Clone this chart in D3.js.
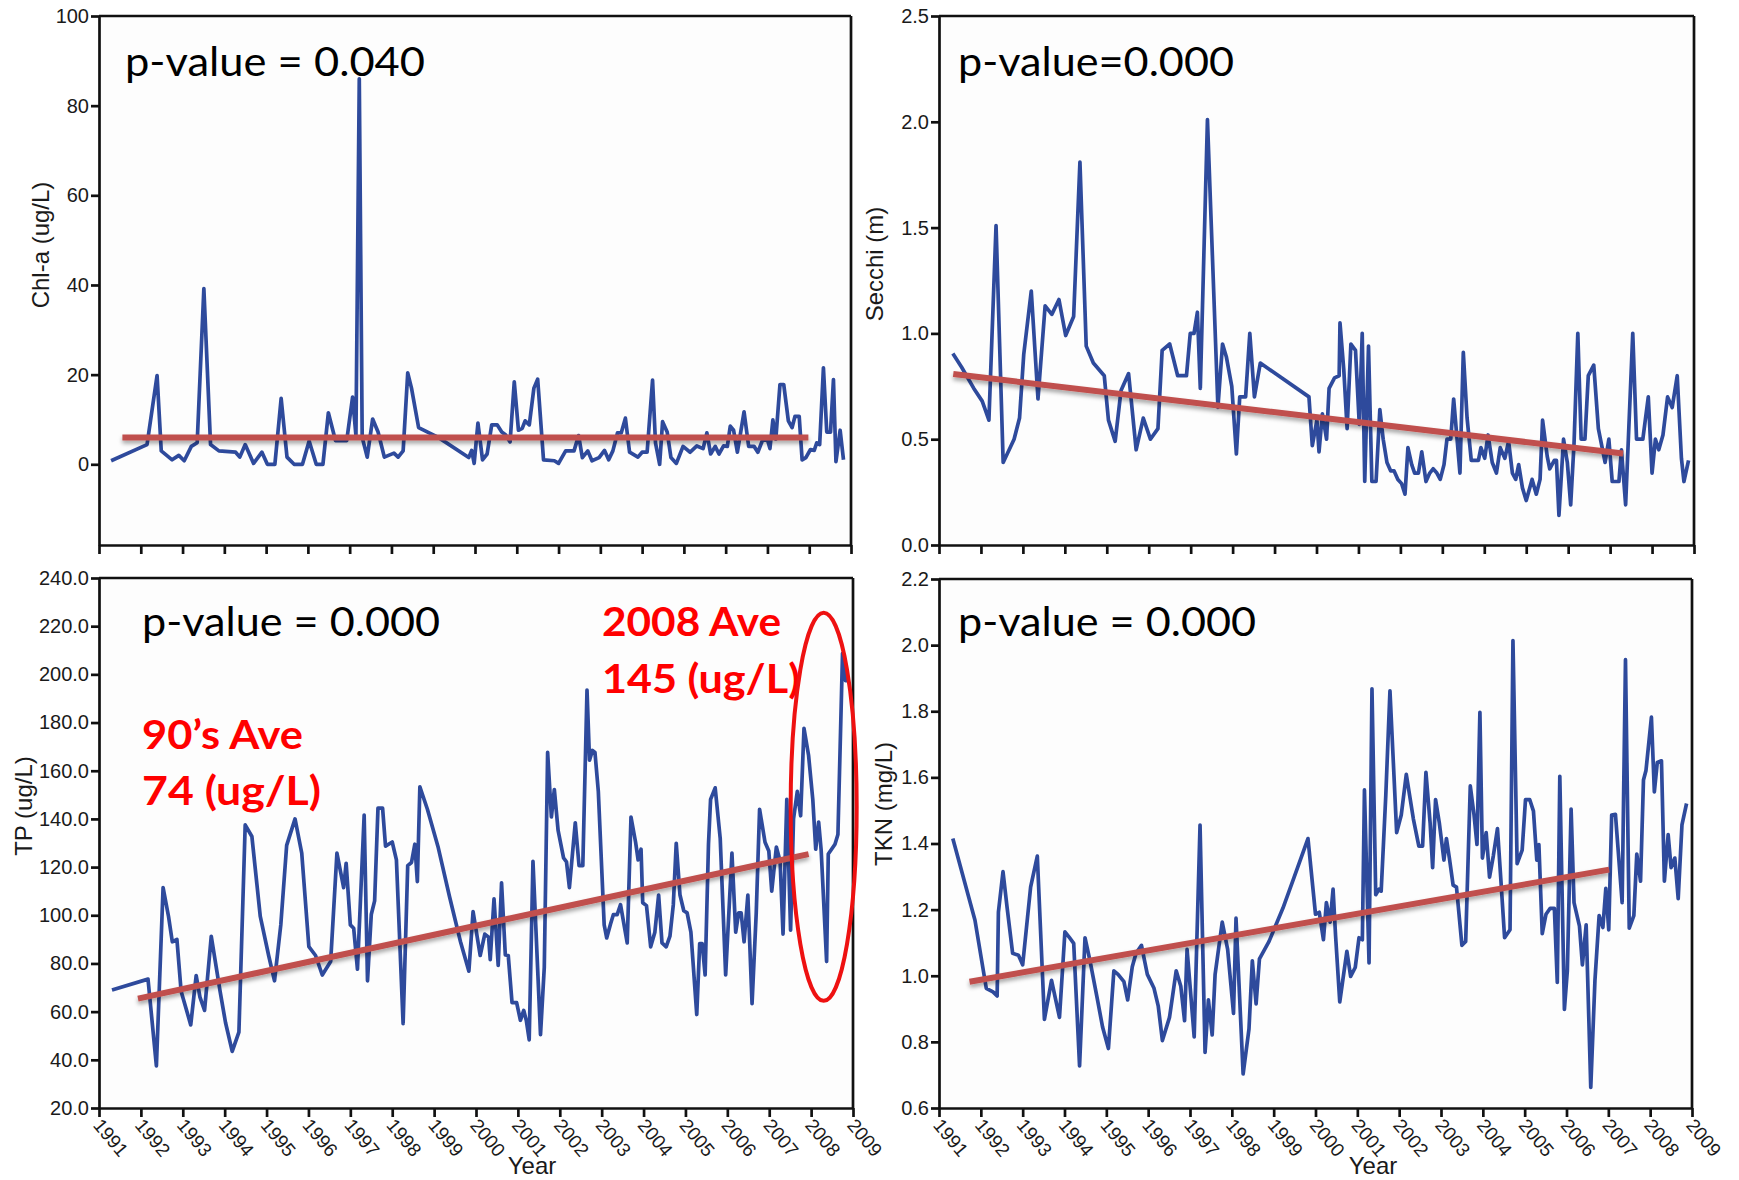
<!DOCTYPE html>
<html><head><meta charset="utf-8">
<script src="https://cdn.jsdelivr.net/npm/d3@7/dist/d3.min.js"></script>
<style>body{margin:0;background:#fff;} svg{display:block;}</style>
</head><body><svg id="chart" width="1739" height="1180"></svg>
<script>
// ---------------- DATA ----------------
const years = [1991,1992,1993,1994,1995,1996,1997,1998,1999,2000,2001,2002,2003,2004,2005,2006,2007,2008,2009];

const chlTicks = [0,20,40,60,80,100];
const secchiTicks = [0,0.5,1.0,1.5,2.0,2.5];
const tpTicks = [20,40,60,80,100,120,140,160,180,200,220,240];
const tknTicks = [0.6,0.8,1.0,1.2,1.4,1.6,1.8,2.0,2.2];

const chlData = [[1991.29,0.8],[1992.15,4.4],[1992.39,19.8],[1992.49,3],[1992.75,1],[1992.91,2],[1993.04,0.8],[1993.21,4],[1993.35,4.8],[1993.51,39.2],[1993.67,4.4],[1993.87,3],[1994.27,2.7],[1994.37,1.6],[1994.50,4.4],[1994.70,0.2],[1994.90,2.7],[1995.03,0],[1995.21,0],[1995.36,14.7],[1995.50,1.6],[1995.67,0],[1995.87,0],[1996.03,5.2],[1996.20,0],[1996.36,0],[1996.49,11.5],[1996.66,5.3],[1996.93,5.3],[1997.07,15],[1997.15,6.4],[1997.23,86],[1997.30,6],[1997.42,1.6],[1997.55,10.1],[1997.68,7.2],[1997.83,1.6],[1998.06,2.5],[1998.16,1.6],[1998.28,3],[1998.39,20.4],[1998.48,17],[1998.65,8.2],[1999.12,6],[1999.85,1.5],[1999.92,3.1],[1999.98,0.2],[2000.07,9.2],[2000.18,1],[2000.29,2.3],[2000.40,8.8],[2000.53,8.8],[2000.64,7.2],[2000.73,6.6],[2000.84,5],[2000.94,18.4],[2001.04,7.6],[2001.13,8],[2001.20,9.7],[2001.30,8.8],[2001.41,17],[2001.50,19],[2001.64,1],[2001.90,0.8],[2002.00,0.2],[2002.17,3],[2002.37,3],[2002.48,6.4],[2002.57,1.5],[2002.70,3],[2002.80,0.8],[2002.97,1.5],[2003.10,3.1],[2003.20,1],[2003.30,3],[2003.41,7],[2003.50,7],[2003.60,10.3],[2003.70,2.7],[2003.90,1.6],[2004.00,2.7],[2004.12,2.7],[2004.25,18.8],[2004.32,4.8],[2004.42,0],[2004.49,9.5],[2004.60,7.2],[2004.69,1.5],[2004.82,0.2],[2004.98,4],[2005.15,2.7],[2005.31,4.1],[2005.46,3.5],[2005.55,7],[2005.64,2.3],[2005.75,4],[2005.84,2.3],[2005.95,4.1],[2006.04,4],[2006.11,8.5],[2006.19,7.6],[2006.28,2.7],[2006.44,11.7],[2006.55,4],[2006.68,4],[2006.77,2.7],[2006.88,5.3],[2007.00,5.5],[2007.06,3.5],[2007.13,9.9],[2007.20,5.6],[2007.30,17.8],[2007.39,17.8],[2007.50,9.7],[2007.59,8.2],[2007.66,10.7],[2007.76,10.7],[2007.83,1],[2007.92,1.5],[2008.03,3.3],[2008.12,3.1],[2008.18,4.8],[2008.25,4.4],[2008.34,21.5],[2008.42,7.2],[2008.51,7.2],[2008.58,18.9],[2008.64,0.6],[2008.74,7.6],[2008.82,1]];
const chlTrend = [[1991.56,6.0],[2007.98,6.0]];

const secchiData = [[1991.33,0.905],[1991.54,0.84],[1991.83,0.74],[1992.03,0.68],[1992.19,0.59],[1992.36,1.51],[1992.53,0.39],[1992.79,0.5],[1992.92,0.6],[1993.02,0.9],[1993.20,1.2],[1993.36,0.69],[1993.53,1.13],[1993.69,1.09],[1993.86,1.16],[1994.02,0.99],[1994.21,1.08],[1994.36,1.81],[1994.51,0.94],[1994.68,0.86],[1994.94,0.8],[1995.04,0.59],[1995.20,0.49],[1995.34,0.73],[1995.52,0.81],[1995.70,0.45],[1995.87,0.6],[1996.04,0.5],[1996.22,0.55],[1996.32,0.92],[1996.50,0.95],[1996.69,0.8],[1996.90,0.8],[1996.99,1.0],[1997.08,1.0],[1997.16,1.1],[1997.23,0.74],[1997.40,2.01],[1997.65,0.65],[1997.76,0.95],[1997.85,0.89],[1997.98,0.75],[1998.09,0.43],[1998.17,0.7],[1998.31,0.7],[1998.41,1.0],[1998.52,0.7],[1998.66,0.86],[1999.82,0.7],[1999.90,0.47],[2000.01,0.59],[2000.06,0.44],[2000.14,0.62],[2000.24,0.5],[2000.30,0.74],[2000.43,0.79],[2000.54,0.8],[2000.56,1.05],[2000.65,0.83],[2000.73,0.55],[2000.82,0.95],[2000.93,0.92],[2001.02,0.57],[2001.09,1.0],[2001.15,0.3],[2001.24,0.94],[2001.32,0.3],[2001.42,0.3],[2001.51,0.64],[2001.59,0.5],[2001.68,0.39],[2001.77,0.35],[2001.85,0.35],[2001.94,0.31],[2002.03,0.29],[2002.11,0.24],[2002.18,0.46],[2002.27,0.38],[2002.34,0.34],[2002.43,0.34],[2002.51,0.44],[2002.61,0.3],[2002.70,0.34],[2002.78,0.36],[2002.87,0.34],[2002.95,0.31],[2003.04,0.38],[2003.11,0.5],[2003.20,0.5],[2003.27,0.69],[2003.33,0.55],[2003.42,0.34],[2003.50,0.91],[2003.59,0.6],[2003.69,0.4],[2003.86,0.4],[2003.92,0.46],[2004.01,0.41],[2004.09,0.52],[2004.19,0.39],[2004.29,0.34],[2004.38,0.46],[2004.49,0.41],[2004.58,0.49],[2004.67,0.34],[2004.75,0.31],[2004.82,0.38],[2004.91,0.27],[2005.00,0.21],[2005.14,0.31],[2005.24,0.24],[2005.33,0.31],[2005.39,0.59],[2005.50,0.42],[2005.56,0.36],[2005.67,0.4],[2005.72,0.4],[2005.78,0.14],[2005.89,0.5],[2005.98,0.39],[2006.06,0.19],[2006.14,0.48],[2006.23,1.0],[2006.31,0.5],[2006.40,0.5],[2006.48,0.8],[2006.61,0.85],[2006.72,0.55],[2006.81,0.46],[2006.88,0.39],[2006.97,0.5],[2007.05,0.3],[2007.21,0.3],[2007.27,0.45],[2007.37,0.19],[2007.54,1.0],[2007.63,0.5],[2007.78,0.5],[2007.91,0.7],[2008.00,0.34],[2008.08,0.5],[2008.16,0.45],[2008.26,0.52],[2008.37,0.7],[2008.48,0.65],[2008.60,0.8],[2008.70,0.41],[2008.76,0.3],[2008.87,0.4]];
const secchiTrend = [[1991.34,0.808],[2007.31,0.432]];

const tpData = [[1991.31,69],[1992.17,73.5],[1992.37,37.5],[1992.53,111.5],[1992.66,99.5],[1992.75,89],[1992.86,90],[1992.96,68.5],[1993.19,54.5],[1993.32,75],[1993.41,66],[1993.52,60.5],[1993.68,91.3],[1993.89,68.5],[1994.02,55.5],[1994.18,43.5],[1994.34,51.5],[1994.49,137.5],[1994.65,132.7],[1994.85,99.5],[1995.05,83.3],[1995.19,72.8],[1995.34,96],[1995.48,129],[1995.68,140],[1995.84,125.8],[1996.01,87],[1996.17,83.3],[1996.33,75.2],[1996.53,80.8],[1996.68,125.8],[1996.84,111.5],[1996.90,121.6],[1997.00,96],[1997.08,94.6],[1997.17,77.6],[1997.33,141.6],[1997.41,72.8],[1997.50,100.3],[1997.58,106],[1997.66,144.5],[1997.77,144.5],[1997.84,128.7],[1998.00,130.4],[1998.10,123],[1998.26,55],[1998.37,120.6],[1998.46,121.9],[1998.54,129.5],[1998.60,114],[1998.66,153.3],[1998.84,144],[1999.10,128],[1999.37,107.6],[1999.63,89],[1999.83,76.8],[1999.93,101.5],[2000.01,93],[2000.10,83.3],[2000.21,92.2],[2000.30,90.9],[2000.34,81.6],[2000.43,106.8],[2000.53,79.2],[2000.61,113.5],[2000.70,83.5],[2000.77,83.3],[2000.86,63.7],[2000.97,63.7],[2001.06,56.4],[2001.14,60.5],[2001.20,56.4],[2001.27,48.3],[2001.36,122.4],[2001.54,50.4],[2001.63,78.4],[2001.71,167.6],[2001.80,140.8],[2001.87,152.2],[2001.96,135.2],[2002.09,123.8],[2002.16,122.2],[2002.23,111.5],[2002.37,138.4],[2002.46,120.6],[2002.55,120.6],[2002.65,193.5],[2002.71,164.4],[2002.78,168.4],[2002.84,167.6],[2002.92,151.4],[2003.06,96],[2003.12,90.6],[2003.21,96.3],[2003.28,100.3],[2003.37,100.3],[2003.45,104.4],[2003.61,88.5],[2003.70,140.8],[2003.81,130.3],[2003.87,123],[2003.94,127.4],[2003.98,105.2],[2004.07,104],[2004.17,86.9],[2004.27,93],[2004.36,108.4],[2004.44,88.5],[2004.54,86.9],[2004.63,91.3],[2004.71,104.3],[2004.78,129.9],[2004.87,108.4],[2004.96,101.9],[2005.04,101],[2005.13,93],[2005.27,58.8],[2005.34,88.2],[2005.40,88.2],[2005.47,75.2],[2005.55,129.5],[2005.60,148.1],[2005.71,152.9],[2005.83,131.9],[2005.96,75.2],[2006.11,125.8],[2006.20,93],[2006.27,101],[2006.33,101],[2006.40,89],[2006.49,108.4],[2006.59,63.3],[2006.69,101],[2006.77,144],[2006.90,130.3],[2006.99,126.7],[2007.06,110],[2007.17,128.3],[2007.26,122.4],[2007.33,92.2],[2007.42,148.1],[2007.51,93.8],[2007.58,140],[2007.67,151.4],[2007.75,141.3],[2007.83,177.6],[2007.94,166.3],[2008.04,148.1],[2008.11,127.4],[2008.18,138.7],[2008.24,127],[2008.37,80.8],[2008.41,125.4],[2008.57,129.5],[2008.64,133.5],[2008.75,208.7],[2008.82,197.4],[2008.88,197.4]];
const tpTrend = [[1991.93,65.4],[2007.94,125.4]];

const tknData = [[1991.33,1.415],[1991.86,1.168],[1992.13,0.962],[1992.29,0.951],[1992.39,0.939],[1992.42,1.192],[1992.53,1.315],[1992.63,1.204],[1992.76,1.068],[1992.90,1.062],[1993.00,1.033],[1993.19,1.268],[1993.35,1.362],[1993.52,0.868],[1993.69,0.986],[1993.88,0.874],[1994.01,1.133],[1994.12,1.115],[1994.22,1.098],[1994.36,0.727],[1994.49,1.115],[1994.61,1.045],[1994.78,0.933],[1994.91,0.845],[1995.05,0.78],[1995.18,1.015],[1995.28,1.004],[1995.42,0.982],[1995.51,0.927],[1995.62,1.027],[1995.71,1.068],[1995.84,1.092],[1995.98,1.004],[1996.14,0.962],[1996.24,0.909],[1996.34,0.804],[1996.51,0.874],[1996.67,1.015],[1996.78,0.968],[1996.87,0.864],[1996.93,1.08],[1997.01,0.956],[1997.10,0.815],[1997.24,1.456],[1997.36,0.768],[1997.44,0.927],[1997.53,0.821],[1997.60,1.004],[1997.77,1.162],[1997.90,1.08],[1998.04,0.886],[1998.10,1.174],[1998.27,0.703],[1998.41,0.839],[1998.49,1.045],[1998.58,0.915],[1998.66,1.051],[1998.89,1.104],[1999.22,1.204],[1999.49,1.298],[1999.82,1.415],[2000.00,1.186],[2000.09,1.192],[2000.19,1.109],[2000.26,1.221],[2000.35,1.162],[2000.42,1.262],[2000.48,1.121],[2000.58,0.921],[2000.75,1.074],[2000.84,0.998],[2000.95,1.025],[2001.04,1.115],[2001.12,1.109],[2001.17,1.562],[2001.28,1.039],[2001.35,1.868],[2001.44,1.245],[2001.52,1.262],[2001.57,1.256],[2001.68,1.545],[2001.78,1.862],[2001.94,1.433],[2002.05,1.486],[2002.17,1.609],[2002.34,1.474],[2002.47,1.392],[2002.56,1.392],[2002.64,1.615],[2002.74,1.462],[2002.80,1.327],[2002.87,1.533],[2002.96,1.462],[2003.07,1.35],[2003.13,1.415],[2003.20,1.356],[2003.29,1.274],[2003.37,1.268],[2003.50,1.092],[2003.59,1.104],[2003.70,1.574],[2003.79,1.486],[2003.86,1.397],[2003.93,1.797],[2003.99,1.356],[2004.08,1.433],[2004.16,1.298],[2004.25,1.362],[2004.35,1.445],[2004.43,1.292],[2004.52,1.115],[2004.65,1.139],[2004.72,2.014],[2004.82,1.339],[2004.94,1.38],[2005.02,1.533],[2005.12,1.533],[2005.21,1.498],[2005.29,1.35],[2005.34,1.397],[2005.42,1.127],[2005.51,1.186],[2005.61,1.204],[2005.71,1.204],[2005.78,0.98],[2005.84,1.603],[2005.95,0.898],[2006.02,1.015],[2006.11,1.504],[2006.18,1.221],[2006.31,1.15],[2006.38,1.033],[2006.47,1.154],[2006.58,0.662],[2006.68,0.986],[2006.78,1.182],[2006.87,1.146],[2006.94,1.264],[2007.01,1.139],[2007.08,1.486],[2007.17,1.488],[2007.33,1.221],[2007.41,1.956],[2007.50,1.144],[2007.61,1.182],[2007.68,1.368],[2007.77,1.286],[2007.84,1.592],[2007.90,1.621],[2008.03,1.782],[2008.10,1.556],[2008.17,1.645],[2008.27,1.65],[2008.34,1.286],[2008.43,1.427],[2008.50,1.327],[2008.59,1.356],[2008.67,1.233],[2008.76,1.456],[2008.87,1.521]];
const tknTrend = [[1991.73,0.982],[2007.02,1.321]];

const pValueLabels = ["p-value = 0.040","p-value=0.000","p-value = 0.000","p-value = 0.000"];
const axisTitles = ["Chl-a (ug/L)","Secchi (m)","TP (ug/L)","TKN (mg/L)"];
const tpNotes = ["2008 Ave","145 (ug/L)","90\u2019s Ave","74 (ug/L)"];
const highlight = {year: 2008.3, value: 145};

// ---------------- DRAW ----------------
const svg = d3.select("#chart");
const BLUE = "#2e4a9c", RED = "#c0504d", ANN = "#ff0000";

const defs = svg.append("defs");
defs.append("filter").attr("id","shadow").attr("filterUnits","userSpaceOnUse")
  .attr("x",0).attr("y",0).attr("width",1739).attr("height",1180)
  .append("feDropShadow").attr("dx",0).attr("dy",3).attr("stdDeviation",2)
  .attr("flood-color","#000").attr("flood-opacity",0.35);

const panels = [
  {x0:99, x1:851, y0:16, y1:545, domain:[-18,100], ticks:chlTicks, fmt:d3.format("d"), data:chlData, trend:chlTrend, labels:false,
   p:pValueLabels[0], px:125, py:76, pw:300, title:axisTitles[0], tx:41, ty:245},
  {x0:939, x1:1694, y0:16, y1:545, domain:[0,2.5], ticks:secchiTicks, fmt:d3.format(".1f"), data:secchiData, trend:secchiTrend, labels:false,
   p:pValueLabels[1], px:958, py:76, pw:276, title:axisTitles[1], tx:875, ty:264},
  {x0:99, x1:853, y0:578, y1:1108, domain:[20,240], ticks:tpTicks, fmt:d3.format(".1f"), data:tpData, trend:tpTrend, labels:true, yearX:532,
   p:pValueLabels[2], px:142, py:636, pw:298, title:axisTitles[2], tx:24, ty:806},
  {x0:939, x1:1692, y0:579, y1:1108, domain:[0.6,2.2], ticks:tknTicks, fmt:d3.format(".1f"), data:tknData, trend:tknTrend, labels:true, yearX:1373,
   p:pValueLabels[3], px:958, py:636, pw:298, title:axisTitles[3], tx:884, ty:804}
];

const scales = [];
panels.forEach((c,i) => {
  const x = d3.scaleLinear().domain([1991,2009]).range([c.x0,c.x1]);
  const y = d3.scaleLinear().domain(c.domain).range([c.y1,c.y0]);
  scales.push({x,y});
  const g = svg.append("g");
  g.append("rect").attr("x",c.x0).attr("y",c.y0).attr("width",c.x1-c.x0).attr("height",c.y1-c.y0).attr("fill","#fdfdfd");

  const line = d3.line().x(d=>x(d[0])).y(d=>y(d[1]));
  g.append("path").datum(c.data).attr("d",line).attr("fill","none").attr("stroke",BLUE)
    .attr("stroke-width",3.7).attr("stroke-linejoin","round");
  g.append("path").datum(c.trend).attr("d",line).attr("fill","none").attr("stroke",RED)
    .attr("stroke-width",6).attr("filter","url(#shadow)");

  // frame: top and right
  g.append("line").attr("x1",c.x0).attr("x2",c.x1).attr("y1",c.y0).attr("y2",c.y0).attr("stroke","#111").attr("stroke-width",2.7);
  g.append("line").attr("x1",c.x1).attr("x2",c.x1).attr("y1",c.y0).attr("y2",c.y1).attr("stroke","#111").attr("stroke-width",2.7);

  const xa = d3.axisBottom(x).tickValues(years).tickSize(9).tickSizeOuter(0)
    .tickFormat(c.labels ? d3.format("d") : "");
  const gx = g.append("g").attr("transform",`translate(0,${c.y1})`).call(xa);
  const ya = d3.axisLeft(y).tickValues(c.ticks).tickSize(8).tickSizeOuter(0).tickPadding(2).tickFormat(c.fmt);
  const gy = g.append("g").attr("transform",`translate(${c.x0},0)`).call(ya);
  [gx,gy].forEach(a => {
    a.select(".domain").attr("stroke","#111").attr("stroke-width",2.7);
    a.selectAll(".tick line").attr("stroke","#111").attr("stroke-width",2.7);
    a.selectAll(".tick text").attr("font-family","'Liberation Sans', Arial, sans-serif")
      .attr("font-size",20).attr("fill","#1a1a1a");
  });
  if (c.labels) {
    gx.selectAll(".tick text").attr("x",0).attr("y",0).attr("dy","0.71em")
      .attr("text-anchor","start").attr("font-size",19)
      .attr("transform","translate(3,9) rotate(50)");
    svg.append("text").attr("x",c.yearX).attr("y",1174).attr("text-anchor","middle")
      .attr("font-family","'Liberation Sans', Arial, sans-serif").attr("font-size",24).attr("fill","#1a1a1a")
      .text("Year");
  }
  svg.append("text").attr("transform",`translate(${c.tx},${c.ty}) rotate(-90)`).attr("text-anchor","middle")
    .attr("dy","0.35em").attr("font-family","'Liberation Sans', Arial, sans-serif").attr("font-size",24)
    .attr("fill","#1a1a1a").text(c.title);

  svg.append("text").attr("x",c.px).attr("y",c.py).attr("font-family","Lato, 'Open Sans', sans-serif")
    .attr("font-size",41).attr("fill","#000").attr("textLength",c.pw).attr("lengthAdjust","spacingAndGlyphs")
    .text(c.p);
});

// TP annotations
const tp = scales[2];
const noteStyle = s => s.attr("font-family","Lato, 'Open Sans', sans-serif").attr("font-weight","bold")
  .attr("font-size",40).attr("fill",ANN).attr("lengthAdjust","spacingAndGlyphs");
noteStyle(svg.append("text").attr("x",602).attr("y",636).attr("textLength",179).text(tpNotes[0]));
noteStyle(svg.append("text").attr("x",602).attr("y",693).attr("textLength",198).text(tpNotes[1]));
noteStyle(svg.append("text").attr("x",142).attr("y",749).attr("textLength",161).text(tpNotes[2]));
noteStyle(svg.append("text").attr("x",142).attr("y",805).attr("textLength",179).text(tpNotes[3]));

svg.append("ellipse").attr("cx",tp.x(highlight.year)).attr("cy",tp.y(highlight.value))
  .attr("rx",33).attr("ry",194).attr("fill","none").attr("stroke","#ee1111").attr("stroke-width",4);
</script>
</body></html>
